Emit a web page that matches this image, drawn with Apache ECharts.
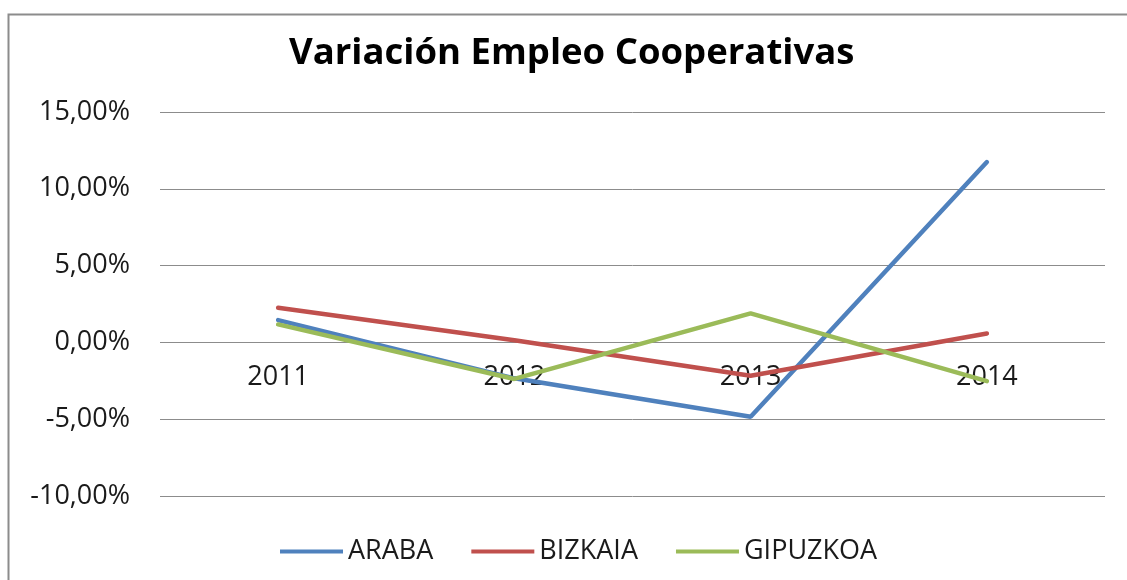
<!DOCTYPE html>
<html>
<head>
<meta charset="utf-8">
<script src="https://cdn.jsdelivr.net/npm/echarts@6/dist/echarts.min.js"></script>
<style>
  html, body { margin: 0; padding: 0; background: #fff; }
  #chart { width: 1127px; height: 580px; }
</style>
</head>
<body>
<div id="chart"></div>
<script>
// años
var years = ['2011', '2012', '2013', '2014'];
// variación en %
var araba = [1.45, -2.34, -4.84, 11.74];
var bizkaia = [2.25, 0.14, -2.17, 0.58];
var gipuzkoa = [1.17, -2.38, 1.89, -2.52];
var yTicks = [-10, -5, 0, 5, 10, 15];

var myChart = echarts.init(document.getElementById('chart'));
var font = '"Open Sans", sans-serif';
var gridTop = 112, gridBottom = 84;

// el eje X cruza en 0 (como en Excel): desplazamiento desde el borde inferior
var plotH = 580 - gridTop - gridBottom;
var yMin = yTicks[0], yMax = yTicks[yTicks.length - 1];
var zeroOffset = -plotH * (0 - yMin) / (yMax - yMin);

function pct(v) {
  return v.toFixed(2).replace('.', ',') + '%';
}

function serie(name, data, color) {
  return {
    name: name,
    type: 'line',
    data: data,
    symbol: 'none',
    smooth: false,
    lineStyle: { color: color, width: 4.5, cap: 'round' },
    itemStyle: { color: color }
  };
}

var option = {
  backgroundColor: '#fff',
  animation: false,
  // marco del gráfico
  graphic: [{
    type: 'rect',
    left: 6, top: 12,
    shape: { width: 1200, height: 700 },
    style: { fill: 'none', stroke: '#8c8c8c', lineWidth: 2 },
    silent: true
  }],
  title: {
    text: 'Variación Empleo Cooperativas',
    left: 289,
    top: 35,
    padding: 0,
    textStyle: { fontFamily: font, fontWeight: 'bold', fontSize: 36.5, color: '#000' }
  },
  legend: {
    bottom: 10,
    left: 275,
    icon: 'rect',
    itemWidth: 63,
    itemHeight: 4,
    itemGap: 38,
    textStyle: { fontFamily: font, fontSize: 27, color: '#1a1a1a' },
    data: ['ARABA', 'BIZKAIA', 'GIPUZKOA']
  },
  grid: { left: 160, right: 22, top: gridTop, bottom: gridBottom },
  xAxis: {
    type: 'category',
    data: years,
    boundaryGap: true,
    offset: zeroOffset,
    axisLine: { show: false },
    axisTick: { show: false },
    axisLabel: { margin: 21, fontFamily: font, fontSize: 27, color: '#1a1a1a' }
  },
  yAxis: {
    type: 'value',
    min: yMin,
    max: yMax,
    interval: 5,
    axisLine: { show: false },
    axisTick: { show: false },
    splitLine: { lineStyle: { color: '#8c8c8c', width: 1 } },
    axisLabel: { margin: 30, fontFamily: font, fontSize: 27, color: '#1a1a1a', formatter: pct }
  },
  series: [
    serie('ARABA', araba, '#4f81bd'),
    serie('BIZKAIA', bizkaia, '#c0504d'),
    serie('GIPUZKOA', gipuzkoa, '#9bbb59')
  ]
};
myChart.setOption(option);
</script>
</body>
</html>
